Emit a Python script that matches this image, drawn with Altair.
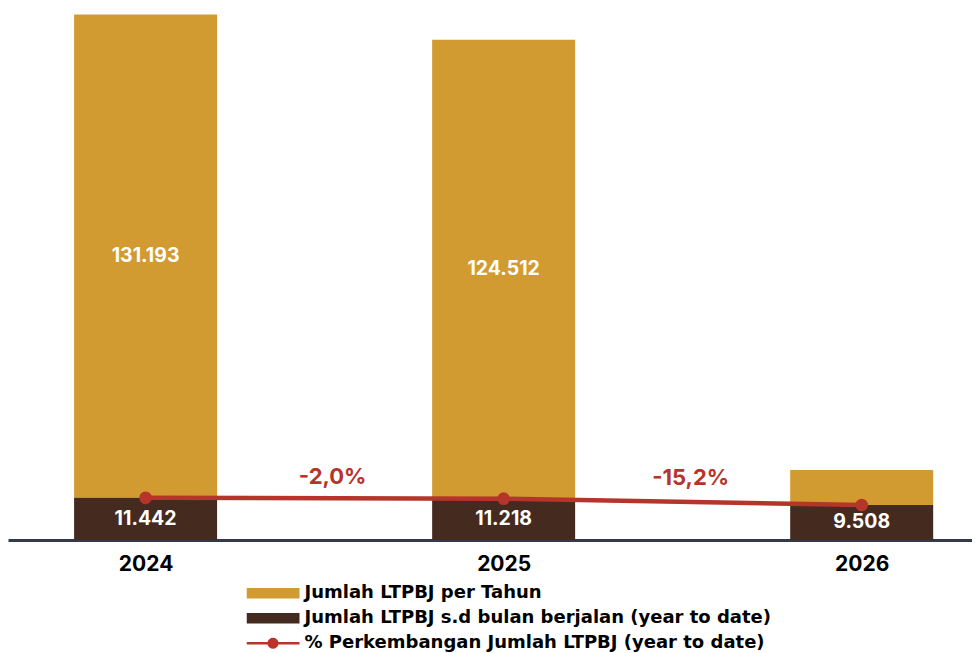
import altair as alt
import pandas as pd

years = [2024, 2025, 2026]
per_tahun = [131193, 124512, 9508]
ytd = [11442, 11218, 9508]
pct_change = [-2.0, -15.2]
series_names = [
    "Jumlah LTPBJ per Tahun",
    "Jumlah LTPBJ s.d bulan berjalan (year to date)",
    "% Perkembangan Jumlah LTPBJ (year to date)",
]

GOLD = "#d19b31"
DARK = "#452a20"
RED = "#b5352a"
AXIS = "#333a4d"
FONT = "Inter"
LEG_FONT = "DejaVu Sans"


def fmt(v):
    return f"{v:,}".replace(",", ".")


df = pd.DataFrame({"year": years, "tahun": per_tahun, "ytd": ytd})
df["top"] = df["ytd"] + df["tahun"]
df["gold_mid"] = df["ytd"] + df["tahun"] / 2
df["ytd_mid"] = df["ytd"] / 2
df["tahun_lbl"] = [fmt(v) for v in per_tahun]
df["ytd_lbl"] = [fmt(v) for v in ytd]

pct_df = pd.DataFrame({
    "xm": [(years[i] + years[i + 1]) / 2 for i in range(len(pct_change))],
    "yv": ytd[:-1],
    "lbl": [f"{p:.1f}%".replace(".", ",") for p in pct_change],
})

legend_df = pd.DataFrame({"series": series_names})

xscale = alt.Scale(domain=[2023.6157, 2026.3081], nice=False, zero=False, padding=0)
yscale = alt.Scale(domain=[0, 144370], nice=False, zero=True, padding=0)

x_enc = alt.X(
    "year:Q", scale=xscale, title=None,
    axis=alt.Axis(values=years, format="d", ticks=False, tickSize=0, grid=False,
                  domainColor=AXIS, domainWidth=3,
                  labelFont=FONT, labelFontSize=21, labelFontWeight="bold",
                  labelColor="black", labelPadding=13),
)

base = alt.Chart(df)

gold = base.mark_bar(size=143, color=GOLD).encode(
    x=x_enc,
    y=alt.Y("top:Q", scale=yscale, axis=None),
    y2="ytd:Q",
)
dark = base.mark_bar(size=143, color=DARK).encode(
    x="year:Q",
    y=alt.Y("ytd:Q", scale=yscale, axis=None),
    y2=alt.datum(0),
)
gold_lbl = base.transform_filter("datum.year < 2026").mark_text(
    font=FONT, fontSize=19.5, fontWeight="bold", color="white", baseline="middle"
).encode(x="year:Q", y=alt.Y("gold_mid:Q", scale=yscale), text="tahun_lbl:N")
ytd_lbl = base.mark_text(
    font=FONT, fontSize=19.5, fontWeight="bold", color="white", baseline="middle"
).encode(x="year:Q", y=alt.Y("ytd_mid:Q", scale=yscale), text="ytd_lbl:N")

line = base.mark_line(color=RED, strokeWidth=4.5).encode(
    x="year:Q", y=alt.Y("ytd:Q", scale=yscale)
)
dots = base.mark_circle(color=RED, size=160, opacity=1).encode(
    x="year:Q", y=alt.Y("ytd:Q", scale=yscale)
)
pct = alt.Chart(pct_df).mark_text(
    font=FONT, fontSize=22, fontWeight="bold", color=RED, baseline="middle",
    dy=-21, dx=8
).encode(x="xm:Q", y=alt.Y("yv:Q", scale=yscale), text="lbl:N")

rect_path = "M-1,-0.2L1,-0.2L1,0.2L-1,0.2Z"
line_path = ("M-1,-0.05L-0.204,-0.05A0.21,0.21 0 0 1 0.204,-0.05L1,-0.05"
             "L1,0.05L0.204,0.05A0.21,0.21 0 0 1 -0.204,0.05L-1,0.05Z")

leg = alt.Legend(
    title=None, orient="none", legendX=238.5, legendY=575.8,
    labelFont=LEG_FONT, labelFontSize=18, labelFontWeight="bold",
    labelColor="black", symbolSize=2809, symbolStrokeWidth=0,
    symbolOpacity=1, clipHeight=19, rowPadding=6, labelOffset=5,
    labelLimit=600, padding=0,
)
legend_layer = alt.Chart(legend_df).mark_point(filled=True, opacity=0).encode(
    color=alt.Color("series:N", scale=alt.Scale(domain=series_names,
                    range=[GOLD, DARK, RED]), legend=leg, sort=series_names),
    shape=alt.Shape("series:N", scale=alt.Scale(domain=series_names,
                    range=[rect_path, rect_path, line_path]), legend=leg,
                    sort=series_names),
)

chart = alt.layer(gold, dark, line, dots, gold_lbl, ytd_lbl, pct, legend_layer).properties(
    width=964, height=532, padding=0
).configure_view(stroke=None)

chart.save("out.html", embed_options={"renderer": "svg", "actions": False})
